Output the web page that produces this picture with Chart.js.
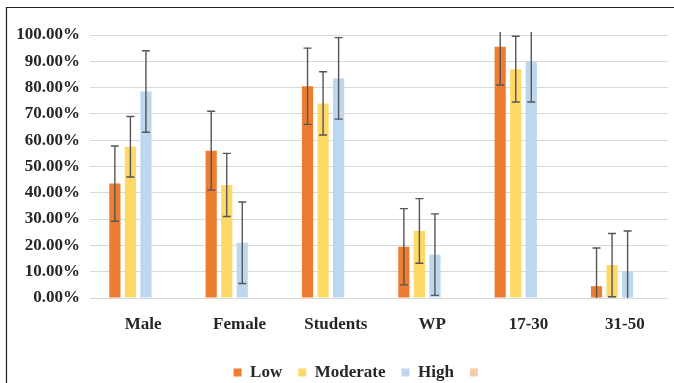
<!DOCTYPE html>
<html>
<head>
<meta charset="utf-8">
<script src="https://cdn.jsdelivr.net/npm/chart.js@4.4.1/dist/chart.umd.min.js"></script>
<style>
  html, body { margin: 0; padding: 0; background: #fff; }
  #wrap { position: relative; width: 674px; height: 383px; }
</style>
</head>
<body>
<div id="wrap"><canvas id="c" width="674" height="383"></canvas></div>
<script>
const categories = ['Male', 'Female', 'Students', 'WP', '17-30', '31-50'];
const seriesNames = ['Low', 'Moderate', 'High', ''];
const lowValues = [43.5, 56, 80.5, 19.5, 95.5, 4.5];
const moderateValues = [57.5, 43, 74, 25.5, 87, 12.5];
const highValues = [78.5, 21, 83.5, 16.5, 90, 10];
const fourthValues = [null, null, null, null, null, null];
const lowErrors = [14.3, 15, 14.5, 14.5, 14.5, 14.5];
const moderateErrors = [11.5, 12, 12, 12.3, 12.5, 12];
const highErrors = [15.5, 15.5, 15.5, 15.5, 15.5, 15.5];
const fourthErrors = [0, 0, 0, 0, 0, 0];
const yTicks = [0, 10, 20, 30, 40, 50, 60, 70, 80, 90, 100];

const colors = ['#ED7D31', '#FFD966', '#BDD7EE', '#F8CBAD'];
const valueSets = [lowValues, moderateValues, highValues, fourthValues];
const errorSets = [lowErrors, moderateErrors, highErrors, fourthErrors];

const serif = '"Liberation Serif", "Times New Roman", serif';

const framePlugin = {
  id: 'frame',
  beforeDraw(chart) {
    const ctx = chart.ctx;
    ctx.save();
    ctx.fillStyle = '#fff';
    ctx.fillRect(0, 0, chart.width, chart.height);
    ctx.strokeStyle = '#222';
    ctx.lineWidth = 1.2;
    ctx.beginPath();
    ctx.moveTo(6.5, chart.height);
    ctx.lineTo(6.5, 7.5);
    ctx.lineTo(chart.width, 7.5);
    ctx.stroke();
    ctx.restore();
  }
};

const legendShiftPlugin = {
  id: 'legendShift',
  afterLayout(chart) {
    if (chart.legend) {
      chart.legend.left += 26;
      chart.legend.right += 26;
    }
  }
};

const errorBarPlugin = {
  id: 'errorBars',
  afterDatasetsDraw(chart) {
    const ctx = chart.ctx;
    const y = chart.scales.y;
    const area = chart.chartArea;
    ctx.save();
    ctx.beginPath();
    ctx.rect(area.left, area.top - 3, area.right - area.left, area.bottom - area.top + 3);
    ctx.clip();
    ctx.strokeStyle = '#555';
    ctx.lineWidth = 1.4;
    chart.data.datasets.forEach((ds, i) => {
      const meta = chart.getDatasetMeta(i);
      const errs = errorSets[i];
      meta.data.forEach((bar, j) => {
        const v = ds.data[j];
        const e = errs[j];
        if (v == null || !e) return;
        const x = bar.x;
        const yt = y.getPixelForValue(v + e);
        const yb = y.getPixelForValue(v - e);
        const hw = 4;
        ctx.beginPath();
        ctx.moveTo(x, yt); ctx.lineTo(x, yb);
        ctx.moveTo(x - hw, yt); ctx.lineTo(x + hw, yt);
        ctx.moveTo(x - hw, yb); ctx.lineTo(x + hw, yb);
        ctx.stroke();
      });
    });
    ctx.restore();
  }
};

new Chart(document.getElementById('c'), {
  type: 'bar',
  data: {
    labels: categories,
    datasets: seriesNames.map((name, i) => ({
      label: name,
      data: valueSets[i],
      backgroundColor: colors[i],
      borderWidth: 0,
      categoryPercentage: 0.645,
      barPercentage: 0.72
    }))
  },
  options: {
    responsive: false,
    animation: false,
    devicePixelRatio: 1,
    layout: { padding: { top: 35, left: 0, right: 6, bottom: 0 } },
    plugins: {
      legend: {
        position: 'bottom',
        maxHeight: 35,
        labels: {
          boxWidth: 8,
          boxHeight: 8,
          padding: 16,
          color: '#262626',
          font: { family: serif, size: 17, weight: 'bold' }
        }
      },
      tooltip: { enabled: false }
    },
    scales: {
      x: {
        grid: { display: false, drawTicks: false },
        border: { display: false },
        ticks: {
          padding: 16,
          labelOffset: 5,
          color: '#262626',
          font: { family: serif, size: 17, weight: 'bold' }
        },
        afterFit(scale) { scale.height = 50; }
      },
      y: {
        min: 0,
        max: 100,
        afterBuildTicks(scale) { scale.ticks = yTicks.map(v => ({ value: v })); },
        grid: { color: '#d9d9d9', lineWidth: 1, drawTicks: false },
        border: { display: false },
        ticks: {
          padding: 10,
          color: '#262626',
          font: { family: serif, size: 17, weight: 'bold' },
          callback: v => v.toFixed(2) + '%'
        },
        afterFit(scale) { scale.width = 90; }
      }
    }
  },
  plugins: [framePlugin, legendShiftPlugin, errorBarPlugin]
});
</script>
</body>
</html>
